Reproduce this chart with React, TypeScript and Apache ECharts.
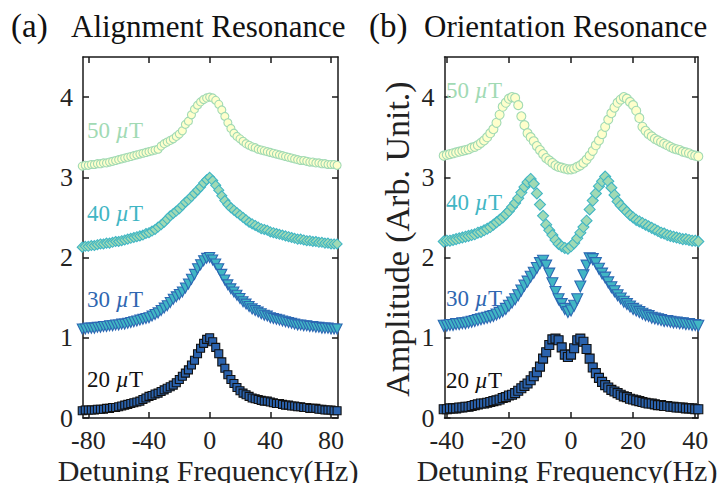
import React, { useEffect, useRef } from "react";
import * as echarts from "echarts";

// ---------- data ----------
// Panel (a): Alignment resonance, detuning -84..84 Hz, step 2
const xA = [
  -84, -82, -80, -78, -76, -74, -72, -70, -68, -66, -64, -62, -60, -58, -56, -54, -52, -50, -48, -46, -44,
  -42, -40, -38, -36, -34, -32, -30, -28, -26, -24, -22, -20, -18, -16, -14, -12, -10, -8, -6, -4, -2, 0,
  2, 4, 6, 8, 10, 12, 14, 16, 18, 20, 22, 24, 26, 28, 30, 32, 34, 36, 38, 40, 42, 44, 46, 48, 50, 52, 54,
  56, 58, 60, 62, 64, 66, 68, 70, 72, 74, 76, 78, 80, 82, 84,
];
const a20 = [
  0.09, 0.1, 0.1, 0.1, 0.1, 0.11, 0.11, 0.11, 0.12, 0.12, 0.13, 0.13, 0.14, 0.15, 0.16, 0.17, 0.18, 0.19, 0.2, 0.21, 0.23,
  0.25, 0.27, 0.28, 0.3, 0.31, 0.33, 0.35, 0.37, 0.39, 0.41, 0.44, 0.48, 0.52, 0.56, 0.6, 0.66, 0.72, 0.8, 0.87, 0.93, 0.98, 1.0,
  0.95, 0.88, 0.8, 0.7, 0.62, 0.54, 0.48, 0.43, 0.38, 0.34, 0.31, 0.29, 0.27, 0.25, 0.24, 0.23, 0.22, 0.21, 0.21, 0.2, 0.19, 0.18, 0.18, 0.17, 0.16, 0.16, 0.15,
  0.15, 0.14, 0.14, 0.13, 0.13, 0.12, 0.12, 0.12, 0.11, 0.11, 0.1, 0.1, 0.1, 0.09, 0.09,
];
const a30 = [
  1.11, 1.11, 1.12, 1.12, 1.12, 1.13, 1.13, 1.14, 1.14, 1.15, 1.15, 1.16, 1.16, 1.17, 1.17, 1.18, 1.19, 1.2, 1.21, 1.22, 1.23,
  1.24, 1.25, 1.27, 1.29, 1.31, 1.34, 1.37, 1.4, 1.44, 1.48, 1.51, 1.54, 1.57, 1.62, 1.67, 1.73, 1.79, 1.86, 1.91, 1.96, 1.99, 2.0,
  1.97, 1.92, 1.86, 1.79, 1.72, 1.66, 1.61, 1.57, 1.53, 1.49, 1.45, 1.42, 1.39, 1.36, 1.34, 1.32, 1.3, 1.28, 1.27, 1.25, 1.24, 1.23, 1.22, 1.21, 1.2, 1.19, 1.18,
  1.17, 1.16, 1.16, 1.15, 1.15, 1.14, 1.14, 1.13, 1.13, 1.12, 1.12, 1.12, 1.11, 1.11, 1.11,
];
const a40 = [
  2.13, 2.14, 2.14, 2.15, 2.15, 2.16, 2.17, 2.17, 2.18, 2.18, 2.19, 2.2, 2.2, 2.21, 2.22, 2.23, 2.24, 2.25, 2.26, 2.27, 2.28,
  2.3, 2.31, 2.33, 2.35, 2.38, 2.41, 2.44, 2.48, 2.52, 2.55, 2.58, 2.61, 2.65, 2.69, 2.72, 2.76, 2.8, 2.84, 2.88, 2.93, 2.97, 3.0,
  2.96, 2.9, 2.84, 2.77, 2.71, 2.66, 2.62, 2.59, 2.56, 2.53, 2.5, 2.47, 2.44, 2.42, 2.4, 2.38, 2.36, 2.35, 2.34, 2.32, 2.31, 2.3, 2.29, 2.28, 2.27, 2.26, 2.25,
  2.24, 2.23, 2.23, 2.22, 2.21, 2.21, 2.2, 2.2, 2.19, 2.19, 2.18, 2.18, 2.17, 2.17, 2.17,
];
const a50 = [
  3.14, 3.15, 3.15, 3.16, 3.16, 3.17, 3.17, 3.18, 3.18, 3.19, 3.2, 3.21, 3.22, 3.23, 3.24, 3.25, 3.26, 3.27, 3.28, 3.29, 3.3,
  3.31, 3.32, 3.33, 3.34, 3.35, 3.39, 3.42, 3.44, 3.46, 3.48, 3.51, 3.54, 3.58, 3.66, 3.7, 3.78, 3.85, 3.9, 3.94, 3.97, 3.99, 4.0,
  3.99, 3.96, 3.91, 3.84, 3.76, 3.68, 3.61, 3.55, 3.51, 3.48, 3.45, 3.42, 3.4, 3.38, 3.37, 3.35, 3.34, 3.33, 3.32, 3.31, 3.3, 3.29, 3.28, 3.27, 3.26, 3.25, 3.24,
  3.23, 3.22, 3.21, 3.21, 3.2, 3.19, 3.19, 3.18, 3.18, 3.17, 3.17, 3.16, 3.16, 3.16, 3.15,
];

// Panel (b): Orientation resonance, detuning -41..41 Hz, step 1
const xB = [
  -41, -40, -39, -38, -37, -36, -35, -34, -33, -32, -31, -30, -29, -28, -27, -26, -25, -24, -23, -22, -21,
  -20, -19, -18, -17, -16, -15, -14, -13, -12, -11, -10, -9, -8, -7, -6, -5, -4, -3, -2, -1, 0,
  1, 2, 3, 4, 5, 6, 7, 8, 9, 10, 11, 12, 13, 14, 15, 16, 17, 18, 19, 20, 21, 22, 23, 24, 25, 26, 27, 28,
  29, 30, 31, 32, 33, 34, 35, 36, 37, 38, 39, 40, 41,
];
const b20 = [
  0.11, 0.11, 0.12, 0.12, 0.12, 0.13, 0.13, 0.14, 0.14, 0.15, 0.16, 0.17, 0.18, 0.18, 0.19, 0.2, 0.21, 0.22, 0.23, 0.25, 0.26,
  0.28, 0.29, 0.31, 0.34, 0.37, 0.4, 0.43, 0.47, 0.52, 0.57, 0.64, 0.74, 0.82, 0.91, 0.98, 0.99, 0.97, 0.88, 0.79, 0.76, 0.79,
  0.87, 0.97, 0.99, 0.95, 0.86, 0.74, 0.63, 0.56, 0.5, 0.45, 0.41, 0.38, 0.35, 0.33, 0.31, 0.29, 0.27, 0.26, 0.24, 0.23, 0.22, 0.21, 0.2, 0.19, 0.18, 0.18, 0.17, 0.16,
  0.16, 0.15, 0.15, 0.14, 0.14, 0.13, 0.13, 0.13, 0.12, 0.12, 0.12, 0.11, 0.11,
];
const b30 = [
  1.15, 1.15, 1.16, 1.16, 1.17, 1.17, 1.18, 1.18, 1.19, 1.2, 1.21, 1.22, 1.23, 1.24, 1.25, 1.26, 1.27, 1.29, 1.31, 1.33, 1.36,
  1.4, 1.44, 1.48, 1.53, 1.59, 1.65, 1.7, 1.76, 1.81, 1.87, 1.93, 1.96, 1.9, 1.8, 1.68, 1.57, 1.48, 1.42, 1.36, 1.32, 1.34,
  1.4, 1.48, 1.64, 1.78, 1.9, 1.99, 1.98, 1.93, 1.86, 1.8, 1.75, 1.69, 1.63, 1.58, 1.53, 1.49, 1.45, 1.42, 1.39, 1.36, 1.34, 1.32, 1.3, 1.28, 1.27, 1.25, 1.24, 1.23,
  1.22, 1.21, 1.21, 1.2, 1.19, 1.19, 1.18, 1.18, 1.17, 1.17, 1.16, 1.16, 1.15,
];
const b40 = [
  2.2, 2.21, 2.21, 2.22, 2.23, 2.24, 2.25, 2.26, 2.27, 2.28, 2.29, 2.31, 2.32, 2.34, 2.36, 2.38, 2.41, 2.44, 2.47, 2.5, 2.54,
  2.58, 2.63, 2.68, 2.74, 2.81, 2.88, 2.94, 2.98, 2.92, 2.8, 2.66, 2.52, 2.41, 2.34, 2.28, 2.22, 2.17, 2.14, 2.12, 2.11, 2.14,
  2.18, 2.24, 2.31, 2.38, 2.46, 2.6, 2.71, 2.8, 2.89, 2.95, 3.01, 2.95, 2.87, 2.78, 2.7, 2.65, 2.61, 2.57, 2.53, 2.5, 2.47, 2.45, 2.43, 2.41, 2.39, 2.37, 2.35, 2.33,
  2.31, 2.3, 2.28, 2.27, 2.26, 2.25, 2.24, 2.23, 2.23, 2.22, 2.21, 2.21, 2.2,
];
const b50 = [
  3.27, 3.28, 3.29, 3.3, 3.31, 3.32, 3.33, 3.34, 3.35, 3.37, 3.38, 3.4, 3.43, 3.46, 3.5, 3.55, 3.6, 3.68, 3.78, 3.88, 3.93,
  3.98, 4.0, 3.99, 3.9, 3.76, 3.65, 3.55, 3.5, 3.45, 3.39, 3.34, 3.29, 3.24, 3.21, 3.18, 3.15, 3.13, 3.12, 3.11, 3.1, 3.1,
  3.11, 3.13, 3.15, 3.18, 3.22, 3.27, 3.33, 3.4, 3.46, 3.54, 3.63, 3.72, 3.8, 3.87, 3.93, 3.97, 4.0, 3.98, 3.94, 3.9, 3.83, 3.74, 3.63, 3.58, 3.54, 3.51, 3.48, 3.46,
  3.44, 3.42, 3.4, 3.38, 3.36, 3.35, 3.34, 3.32, 3.31, 3.3, 3.28, 3.27, 3.26,
];

const xTicksA = [-80, -40, 0, 40, 80];
const xTicksB = [-40, -20, 0, 20, 40];
const yTicks = [0, 1, 2, 3, 4];
const fieldLabels = ["20", "30", "40", "50"];

// ---------- styling ----------
const FONT = "Liberation Serif";
const styles = [
  { symbol: "rect", rotate: 0, fill: "#2a62ad", edge: "#111111", text: "#111111" },
  { symbol: "triangle", rotate: 180, fill: "#41b6c4", edge: "#2c68b3", text: "#2f67b1" },
  { symbol: "diamond", rotate: 0, fill: "#a1dab4", edge: "#41b6c4", text: "#41b6c4" },
  { symbol: "circle", rotate: 0, fill: "#ffffcc", edge: "#a1dab4", text: "#a1dab4" },
];

export default function App() {
  const ref = useRef<HTMLDivElement>(null);
  useEffect(() => {
    if (!ref.current) return;
    const chart = echarts.init(ref.current, null, { renderer: "svg" });

    const axisLine = { show: true, onZero: false, lineStyle: { color: "#1a1a1a", width: 1.5 } };
    const tick = (vals: number[]) => ({
      show: true,
      inside: true,
      length: 6,
      customValues: vals,
      lineStyle: { color: "#1a1a1a", width: 1.5 },
    });

    const mkX = (grid: number, min: number, max: number, ticks: number[], pos: "bottom" | "top") => ({
      type: "value",
      gridIndex: grid,
      position: pos,
      min,
      max,
      axisLine,
      axisTick: tick(ticks),
      axisLabel:
        pos === "bottom"
          ? { show: true, customValues: ticks, fontSize: 26, fontFamily: FONT, color: "#222", margin: 9 }
          : { show: false },
      splitLine: { show: false },
    });
    const mkY = (grid: number, pos: "left" | "right") => ({
      type: "value",
      gridIndex: grid,
      position: pos,
      min: 0,
      max: 4.5,
      axisLine,
      axisTick: tick(yTicks),
      axisLabel:
        pos === "left"
          ? { show: true, customValues: yTicks, fontSize: 26, fontFamily: FONT, color: "#222", margin: 10 }
          : { show: false },
      splitLine: { show: false },
    });

    const panels = [
      { xs: xA, ys: [a20, a30, a40, a50], size: 8 },
      { xs: xB, ys: [b20, b30, b40, b50], size: 9 },
    ];
    const series: any[] = [];
    panels.forEach((p, pi) => {
      p.ys.forEach((ys, si) => {
        const st = styles[si];
        series.push({
          type: "scatter",
          xAxisIndex: pi * 2,
          yAxisIndex: pi * 2,
          symbol: st.symbol,
          symbolRotate: st.rotate,
          symbolSize: st.symbol === "diamond" || st.symbol === "triangle" ? p.size + 2 : p.size,
          clip: false,
          itemStyle: { color: st.fill, borderColor: st.edge, borderWidth: 1.1, opacity: 1 },
          data: p.xs.map((x, i) => [x, ys[i]]),
          z: 3,
        });
      });
    });

    const labelPos = [
      { x: 87, ys: [379, 299, 213, 130] },
      { x: 446, ys: [380, 298, 202, 90] },
    ];
    const graphics: any[] = [];
    labelPos.forEach((lp) => {
      fieldLabels.forEach((f, i) => {
        graphics.push({
          type: "text",
          x: lp.x,
          y: lp.ys[i],
          z: 10,
          style: {
            text: `${f} {mu|µ}T`,
            fontFamily: FONT,
            fontSize: 23,
            fill: styles[i].text,
            verticalAlign: "middle",
            align: "left",
            rich: { mu: { fontStyle: "italic", fontFamily: FONT, fontSize: 23, fill: styles[i].text } },
          },
        });
      });
    });
    // titles and axis names
    graphics.push(
      { type: "text", x: 11, y: 26, style: { text: "(a)", fontFamily: FONT, fontSize: 33, fill: "#111", verticalAlign: "middle" } },
      { type: "text", x: 71, y: 26, style: { text: "Alignment Resonance", fontFamily: FONT, fontSize: 31, fill: "#111", verticalAlign: "middle" } },
      { type: "text", x: 369, y: 26, style: { text: "(b)", fontFamily: FONT, fontSize: 33, fill: "#111", verticalAlign: "middle" } },
      { type: "text", x: 424, y: 26, style: { text: "Orientation Resonance", fontFamily: FONT, fontSize: 31, fill: "#111", verticalAlign: "middle" } },
      { type: "text", x: 208, y: 470, style: { text: "Detuning Frequency(Hz)", fontFamily: FONT, fontSize: 30, fill: "#222", align: "center", verticalAlign: "middle" } },
      { type: "text", x: 567, y: 470, style: { text: "Detuning Frequency(Hz)", fontFamily: FONT, fontSize: 30, fill: "#222", align: "center", verticalAlign: "middle" } },
      {
        type: "text",
        x: 397,
        y: 239,
        rotation: Math.PI / 2,
        style: { text: "Amplitude (Arb. Unit.)", fontFamily: FONT, fontSize: 34, fill: "#222", align: "center", verticalAlign: "middle" },
      }
    );

    chart.setOption({
      animation: false,
      backgroundColor: "#ffffff",
      grid: [
        { left: 83, width: 255, top: 57, height: 361 },
        { left: 444.5, width: 253.5, top: 57, height: 361 },
      ],
      xAxis: [
        mkX(0, -83.5, 84.6, xTicksA, "bottom"),
        mkX(0, -83.5, 84.6, xTicksA, "top"),
        mkX(1, -40.75, 40.9, xTicksB, "bottom"),
        mkX(1, -40.75, 40.9, xTicksB, "top"),
      ],
      yAxis: [mkY(0, "left"), mkY(0, "right"), mkY(1, "left"), mkY(1, "right")],
      series,
      graphic: graphics,
    });
    return () => chart.dispose();
  }, []);
  return <div ref={ref} style={{ width: 726, height: 491, margin: -8 }} />;
}
